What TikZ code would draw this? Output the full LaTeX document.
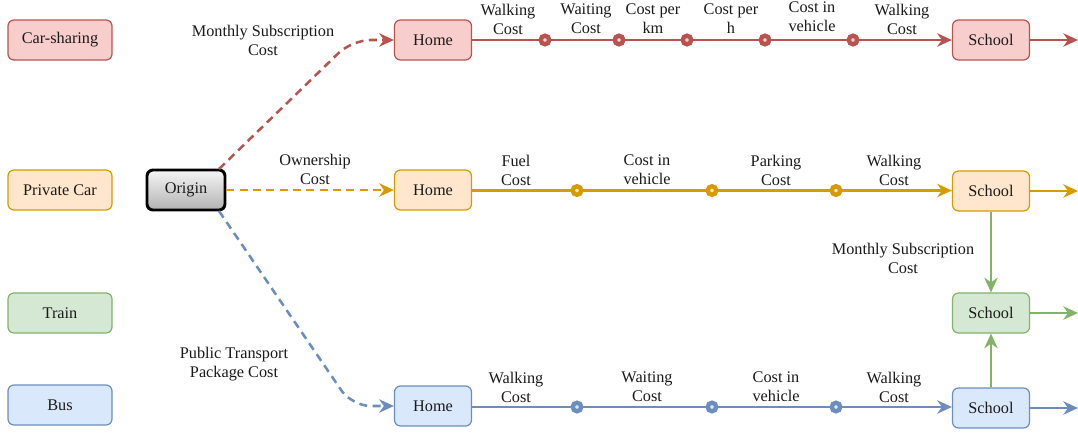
\documentclass[tikz,border=0pt]{standalone}
\usepackage{fontspec}
\setmainfont{Liberation Serif}
\usetikzlibrary{arrows.meta}
\definecolor{redS}{HTML}{B85450}
\definecolor{redF}{HTML}{F8CECC}
\definecolor{oraS}{HTML}{D79B00}
\definecolor{oraF}{HTML}{FFE6CC}
\definecolor{grnS}{HTML}{82B366}
\definecolor{grnF}{HTML}{D5E8D4}
\definecolor{bluS}{HTML}{6C8EBF}
\definecolor{bluF}{HTML}{DAE8FC}
\definecolor{txt}{HTML}{1A1A1A}
\begin{document}
\begin{tikzpicture}[x=0.75pt,y=-0.75pt,
  font=\fontsize{12.2}{14.2}\selectfont, text=txt,
  box/.style={draw, rounded corners=4.5pt, minimum height=30pt, line width=0.9pt, inner sep=2pt, align=center},
  mode/.style={box, minimum width=78pt},
  place/.style={box, minimum width=57.75pt},
  lbl/.style={align=center, inner sep=0pt},
  conn/.style={line width=1.9pt, -{Stealth[length=11pt,width=10pt,inset=3.5pt]}},
  dconn/.style={conn, dash pattern=on 6pt off 4pt, rounded corners=14pt},
  ring/.style={circle, draw=#1, line width=3.3pt, minimum size=6.4pt, inner sep=0pt},
]
\useasboundingbox (0,0) rectangle (1078,432);

% left legend
\node[mode, draw=redS, fill=redF] (cs) at (60,40) {Car-sharing};
\node[mode, draw=oraS, fill=oraF] (pc) at (60,190) {Private Car};
\node[mode, draw=grnS, fill=grnF] (tr) at (60,313) {Train};
\node[mode, draw=bluS, fill=bluF] (bu) at (60,405) {Bus};

% origin
\node[box, minimum width=58.5pt, draw=black, line width=2.2pt, top color=gray!8, bottom color=gray!60] (org) at (186,190) {Origin};

% homes and schools
\node[place, draw=redS, fill=redF] (h1) at (433,40) {Home};
\node[place, draw=oraS, fill=oraF] (h2) at (433,190) {Home};
\node[place, draw=bluS, fill=bluF] (h4) at (433,406) {Home};
\node[place, draw=redS, fill=redF] (s1) at (991,40) {School};
\node[place, draw=oraS, fill=oraF] (s2) at (991,191) {School};
\node[place, draw=grnS, fill=grnF] (s3) at (991,313) {School};
\node[place, draw=bluS, fill=bluF] (s4) at (991,408) {School};

% right ends
\coordinate (e1) at (1078,40);
\coordinate (e2) at (1078,191);
\coordinate (e3) at (1078,313);
\coordinate (e4) at (1078,408);

% dashed origin connectors
\coordinate (o1) at (219,169);
\coordinate (k1) at (352,40);
\coordinate (o4) at (219,211);
\coordinate (k4) at (352,406);
\draw[dconn, redS] (o1) -- (k1) -- (h1.west);
\draw[dconn, oraS] (org.east) -- (h2.west);
\draw[dconn, bluS] (o4) -- (k4) -- (h4.west);
\node[lbl] (l1) at (263,40) {Monthly Subscription\\Cost};
\node[lbl] (l2) at (315,169) {Ownership\\Cost};
\node[lbl] (l4) at (234,364) {Public Transport\\Package Cost};

% car-sharing line
\coordinate (a1) at (545,40);
\coordinate (a2) at (619,40);
\coordinate (a3) at (687,40);
\coordinate (a4) at (765,40);
\coordinate (a5) at (853,40);
\draw[conn, redS] (h1.east) -- (a1) -- (a2) -- (a3) -- (a4) -- (a5) -- (s1.west);
\foreach \p in {a1,a2,a3,a4,a5} \node[ring=redS, fill=redF] at (\p) {};
\draw[conn, redS] (s1.east) -- (e1);
\node[lbl] at (508,19) {Walking\\Cost};
\node[lbl] at (586,19) {Waiting\\Cost};
\node[lbl] at (653,19) {Cost per\\km};
\node[lbl] at (731,19) {Cost per\\h};
\node[lbl] at (812,17) {Cost in\\vehicle};
\node[lbl] at (902,19) {Walking\\Cost};

% private car line
\coordinate (b1) at (577,190.5);
\coordinate (b2) at (712,190.5);
\coordinate (b3) at (836,190.5);
\draw[conn, oraS] (h2.east |- b1) -- (b1) -- (b2) -- (b3) -- (s2.west |- b3);
\foreach \p in {b1,b2,b3} \node[ring=oraS, fill=oraF] at (\p) {};
\draw[conn, oraS] (s2.east) -- (e2);
\node[lbl] at (516,170) {Fuel\\Cost};
\node[lbl] at (647,170) {Cost in\\vehicle};
\node[lbl] at (776,170) {Parking\\Cost};
\node[lbl] at (894,170) {Walking\\Cost};

% bus line
\coordinate (c1) at (577,407);
\coordinate (c2) at (712,407);
\coordinate (c3) at (836,407);
\draw[conn, bluS] (h4.east |- c1) -- (c1) -- (c2) -- (c3) -- (s4.west |- c3);
\foreach \p in {c1,c2,c3} \node[ring=bluS, fill=bluF] at (\p) {};
\draw[conn, bluS] (s4.east) -- (e4);
\node[lbl] at (516,387) {Walking\\Cost};
\node[lbl] at (647,387) {Waiting\\Cost};
\node[lbl] at (776,387) {Cost in\\vehicle};
\node[lbl] at (894,387) {Walking\\Cost};

% train connections
\draw[conn, grnS] (s2.south) -- (s3.north);
\draw[conn, grnS] (s4.north) -- (s3.south);
\draw[conn, grnS] (s3.east) -- (e3);
\node[lbl] at (903,258) {Monthly Subscription\\Cost};
\end{tikzpicture}
\end{document}
